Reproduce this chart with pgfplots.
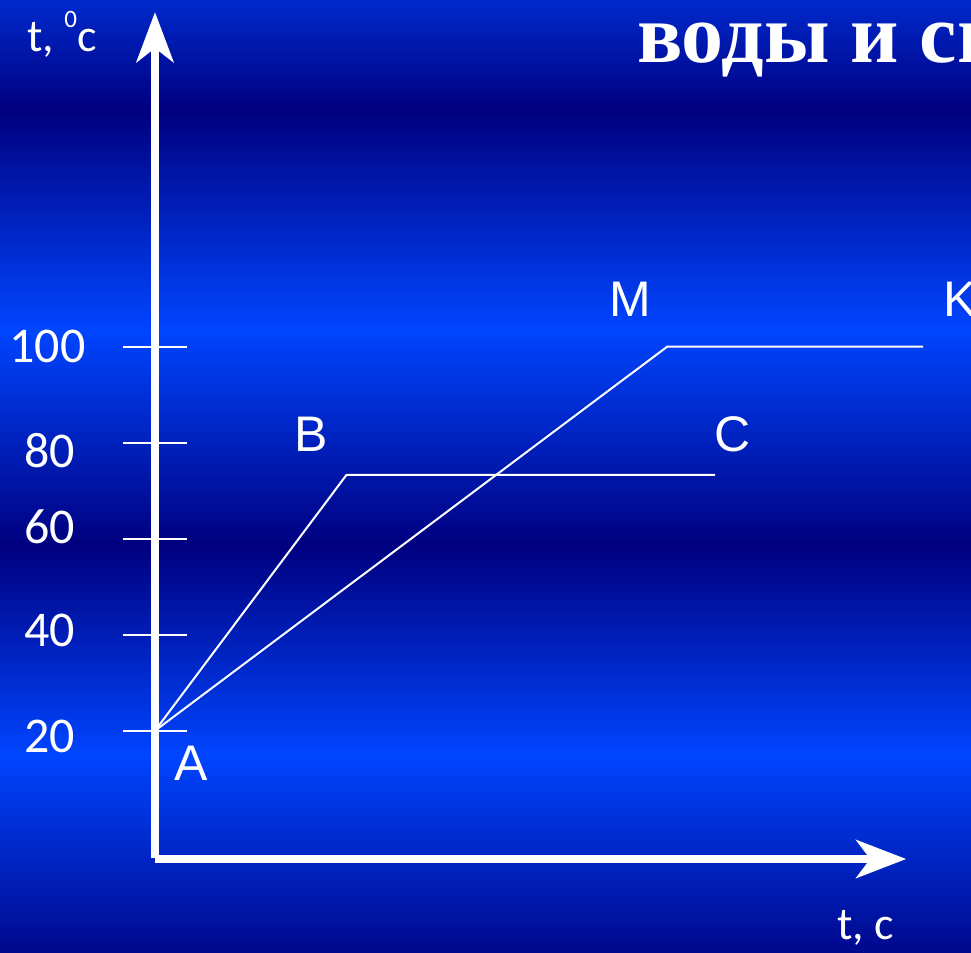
\documentclass[border=0pt]{standalone}
\usepackage{pgfplots}
\pgfplotsset{compat=1.18}
\usetikzlibrary{arrows.meta}
\usepackage{fontspec}
\setmainfont{Carlito}
\newfontfamily\arialfont{Liberation Sans}
\newfontfamily\serifbold{Liberation Serif}

\pgfdeclareverticalshading{slidebg}{971bp}{rgb(0bp)=(0,0.03,0.55); rgb(198bp)=(0,0.27,1); rgb(408bp)=(0,0,0.5); rgb(623bp)=(0,0.27,1); rgb(843bp)=(0,0,0.5); rgb(953bp)=(0,0.16,0.8)}

\begin{document}
\begin{tikzpicture}[x=1bp,y=1bp]
\useasboundingbox (0,0) rectangle (971,953);
\clip (0,0) rectangle (971,953);
\node[inner sep=0pt, outer sep=0pt, anchor=south west] at (0,0) {\pgfuseshading{slidebg}};
\begin{axis}[at={(0,0)}, anchor=south west, scale only axis,
  width=971bp, height=953bp,
  xmin=-32.29, xmax=170, ymin=-26.31, ymax=172.23,
  hide axis, clip=false]
% axes with arrows
\draw[white, line width=8bp, -{Stealth[length=50bp, width=37bp, inset=14bp]}] (axis cs:0,-6.52) -- (axis cs:0,169.7);
\draw[white, line width=8bp, -{Stealth[length=50bp, width=38bp, inset=14bp]}] (axis cs:0,-6.73) -- (axis cs:156.5,-6.73);
% tick marks
\addplot[white, line width=2bp, mark=none] coordinates {(-6.67,20) (6.67,20)};
\addplot[white, line width=2bp, mark=none] coordinates {(-6.67,40) (6.67,40)};
\addplot[white, line width=2bp, mark=none] coordinates {(-6.67,60) (6.67,60)};
\addplot[white, line width=2bp, mark=none] coordinates {(-6.67,80) (6.67,80)};
\addplot[white, line width=2bp, mark=none] coordinates {(-6.67,100) (6.67,100)};
% data: A-B-C (spirit) and A-M-K (water)
\addplot[white, line width=2bp, mark=none] coordinates {(0,20) (39.9,73.3) (116.7,73.3)};
\addplot[white, line width=2bp, mark=none] coordinates {(0,20) (106.7,100) (160,100)};
% tick labels
\node[white, font=\fontsize{50bp}{60bp}\selectfont, inner sep=0pt] at (axis cs:-22.4,100.1) {100};
\node[white, font=\fontsize{50bp}{60bp}\selectfont, inner sep=0pt] at (axis cs:-21.9,78.3) {80};
\node[white, font=\fontsize{50bp}{60bp}\selectfont, inner sep=0pt] at (axis cs:-21.9,62.4) {60};
\node[white, font=\fontsize{50bp}{60bp}\selectfont, inner sep=0pt] at (axis cs:-21.9,40.8) {40};
\node[white, font=\fontsize{50bp}{60bp}\selectfont, inner sep=0pt] at (axis cs:-21.9,18.9) {20};
% point labels
\node[white, font=\arialfont\fontsize{50bp}{60bp}\selectfont, inner sep=0pt] at (axis cs:7.5,13.2) {A};
\node[white, font=\arialfont\fontsize{50bp}{60bp}\selectfont, inner sep=0pt] at (axis cs:32.6,81.7) {B};
\node[white, font=\arialfont\fontsize{50bp}{60bp}\selectfont, inner sep=0pt] at (axis cs:120.3,81.7) {C};
\node[white, font=\arialfont\fontsize{50bp}{60bp}\selectfont, inner sep=0pt] at (axis cs:99.1,109.8) {M};
\node[white, font=\arialfont\fontsize{50bp}{60bp}\selectfont, inner sep=0pt, anchor=west] at (axis cs:164.2,109.8) {K};
% axis titles
\node[white, font=\fontsize{46bp}{55bp}\selectfont, inner sep=0pt, anchor=base west] at (axis cs:-26.67,161.4) {t, \raisebox{24bp}{\fontsize{25bp}{30bp}\selectfont 0}c};
\node[white, font=\fontsize{46bp}{55bp}\selectfont, inner sep=0pt, anchor=base west] at (axis cs:142.1,-23.6) {t, c};
% title (cut off at the right edge)
\node[white, font=\serifbold\bfseries\fontsize{84bp}{96bp}\selectfont, inner sep=0pt, anchor=base west] at (axis cs:100.4,159.3) {воды и спирта};
\end{axis}
\end{tikzpicture}
\end{document}
